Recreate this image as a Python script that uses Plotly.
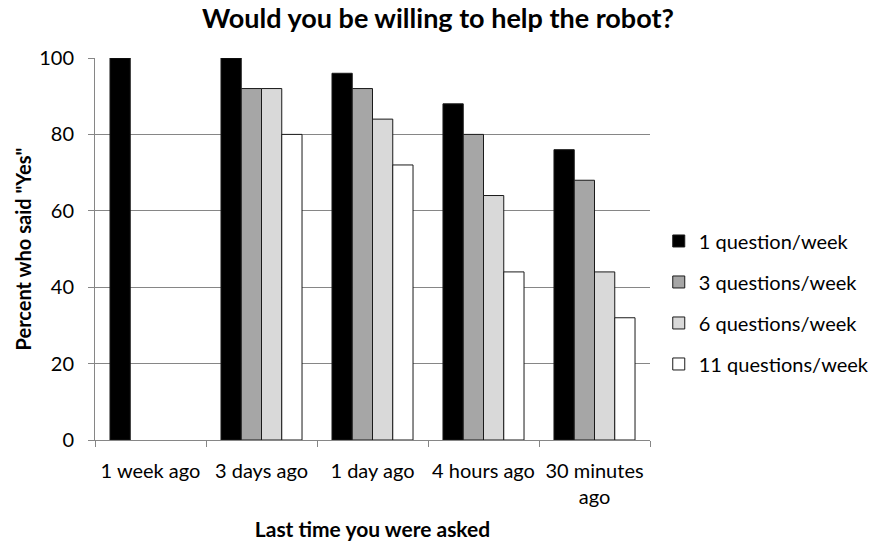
import plotly.graph_objects as go

# Survey responses grouped by how recently the participant was last asked
categories = ["1 week ago", "3 days ago", "1 day ago", "4 hours ago", "30 minutes<br>ago"]
series_names = ["1 question/week", "3 questions/week", "6 questions/week", "11 questions/week"]
q1_per_week = [100, 100, 96, 88, 76]
q3_per_week = [None, 92, 92, 80, 68]
q6_per_week = [None, 92, 84, 64, 44]
q11_per_week = [None, 80, 72, 44, 32]
fill_colors = ["#000000", "#a6a6a6", "#d9d9d9", "#ffffff"]

FONT = "Lato, Calibri, Carlito, sans-serif"

fig = go.Figure()
for i, (name, vals) in enumerate(zip(series_names, [q1_per_week, q3_per_week, q6_per_week, q11_per_week])):
    fig.add_trace(go.Bar(
        x=categories, y=vals, name=name,
        legendgroup=f"g{i}",
        marker=dict(color=fill_colors[i], line=dict(color="#1a1a1a", width=1)),
    ))

fig.update_layout(
    width=876, height=544,
    margin=dict(l=95, r=226, t=58, b=104, autoexpand=False),
    paper_bgcolor="white", plot_bgcolor="white",
    barmode="group", bargap=0.27, bargroupgap=0,
    font=dict(family=FONT, size=20, color="#000000"),
    title=dict(text="<b>Would you be willing to help the robot?</b>",
               x=0.5, xanchor="center", xref="container",
               y=0.965, yanchor="middle", yref="container",
               font=dict(family=FONT, size=27, color="#000000")),
    legend=dict(x=0.752, xanchor="left", xref="container",
                y=0.36, yanchor="middle",
                font=dict(family=FONT, size=20),
                traceorder="grouped", tracegroupgap=12,
                bgcolor="rgba(0,0,0,0)"),
    showlegend=True,
)

fig.update_xaxes(
    showline=True, linecolor="#868686", linewidth=1,
    ticks="outside", tickson="boundaries", ticklen=6, tickcolor="#868686",
    showgrid=False, automargin=False, tickangle=0,
    tickfont=dict(family=FONT, size=20),
    ticklabelstandoff=13,
    title=dict(text="<b>Last time you were asked</b>", font=dict(family=FONT, size=21), standoff=15),
)
fig.update_yaxes(
    range=[0, 100], dtick=20,
    showline=True, linecolor="#868686", linewidth=1,
    ticks="outside", ticklen=6, tickcolor="#868686",
    showgrid=True, gridcolor="#868686", gridwidth=1,
    zeroline=False, automargin=False,
    tickfont=dict(family=FONT, size=20),
    ticklabelstandoff=10,
    title=dict(text="<b>Percent who said \"Yes\"</b>", font=dict(family=FONT, size=20), standoff=2),
)

fig.write_html("out.html")
